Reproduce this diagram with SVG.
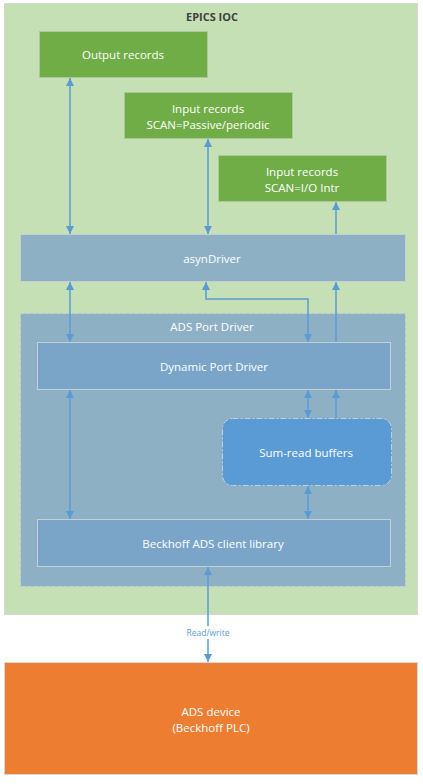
<svg xmlns="http://www.w3.org/2000/svg" width="423" height="784" viewBox="0 0 423 784">
<defs>
<style>
text{font-family:"Open Sans","Liberation Sans",sans-serif;font-size:11.5px;fill:#ffffff;text-anchor:middle;dominant-baseline:central}
.green{fill:#70AD47;stroke:#A9C99A;stroke-width:1}
.blue1{fill:#8EB0C4;stroke:#C3CFD8;stroke-width:1}
.blue2{fill:#7AA5C9;stroke:#C3CFD8;stroke-width:1}
.conn{stroke:#5B9BD5;stroke-width:1.5;fill:none}
</style>
<marker id="ah" viewBox="0 0 8 8" refX="8" refY="4" markerWidth="8" markerHeight="8" markerUnits="userSpaceOnUse" orient="auto-start-reverse">
<path d="M0,0 L8,4 L0,8 z" fill="#5B9BD5"/>
</marker>
</defs>
<rect width="423" height="784" fill="#ffffff"/>
<g id="epics-ioc">
<rect x="4.5" y="3.5" width="413" height="611" fill="#C5E0B4" stroke="#D4D8D0"/>
<text x="212" y="16" style="font-weight:bold;fill:#404040;font-size:11px">EPICS IOC</text>
</g>
<g id="output-records">
<rect class="green" x="39.5" y="31.5" width="168" height="46"/>
<text x="123" y="54">Output records</text>
</g>
<g id="input-passive">
<rect class="green" x="124.5" y="92.5" width="168" height="46"/>
<text x="208" y="108">Input records</text>
<text x="208" y="124">SCAN=Passive/periodic</text>
</g>
<g id="input-io">
<rect class="green" x="218.5" y="155.5" width="168" height="46"/>
<text x="302" y="171">Input records</text>
<text x="302" y="187">SCAN=I/O Intr</text>
</g>
<g id="asyn-driver">
<rect class="blue1" x="20.5" y="234.5" width="385" height="47"/>
<text x="212" y="258">asynDriver</text>
</g>
<g id="ads-port-driver">
<rect x="20.5" y="313.5" width="385" height="273" fill="#8EB0C4" stroke="#C3CFD8" stroke-dasharray="4,2"/>
<text x="212" y="326">ADS Port Driver</text>
</g>
<g id="dynamic-port-driver">
<rect class="blue2" x="37.5" y="342.5" width="353" height="47"/>
<text x="214" y="366">Dynamic Port Driver</text>
</g>
<g id="sum-read-buffers">
<rect x="222.5" y="418.5" width="169" height="67" rx="10" ry="10" fill="#5B9BD5" stroke="#C3CFD8" stroke-dasharray="6,2,2,2"/>
<text x="306" y="452">Sum-read buffers</text>
</g>
<g id="beckhoff-lib">
<rect class="blue2" x="37.5" y="519.5" width="353" height="47"/>
<text x="213" y="543">Beckhoff ADS client library</text>
</g>
<g id="ads-device">
<rect x="4.5" y="662.5" width="413" height="112" fill="#ED7D31" stroke="#D8D8D8"/>
<text x="211" y="711">ADS device</text>
<text x="211" y="727">(Beckhoff PLC)</text>
</g>
<g id="connectors">
<line class="conn" x1="70" y1="78" x2="70" y2="234" marker-start="url(#ah)" marker-end="url(#ah)"/>
<line class="conn" x1="208" y1="139" x2="208" y2="234" marker-start="url(#ah)" marker-end="url(#ah)"/>
<line class="conn" x1="336" y1="234" x2="336" y2="202" marker-end="url(#ah)"/>
<line class="conn" x1="70" y1="282" x2="70" y2="342" marker-start="url(#ah)" marker-end="url(#ah)"/>
<polyline class="conn" points="206,282 206,299 308,299 308,342" marker-start="url(#ah)" marker-end="url(#ah)"/>
<line class="conn" x1="336" y1="342" x2="336" y2="282" marker-end="url(#ah)"/>
<line class="conn" x1="70" y1="390" x2="70" y2="519" marker-start="url(#ah)" marker-end="url(#ah)"/>
<line class="conn" x1="308" y1="390" x2="308" y2="418" marker-start="url(#ah)" marker-end="url(#ah)"/>
<line class="conn" x1="336" y1="418" x2="336" y2="390" marker-end="url(#ah)"/>
<line class="conn" x1="308" y1="486" x2="308" y2="519" marker-start="url(#ah)" marker-end="url(#ah)"/>
<line class="conn" x1="208" y1="567" x2="208" y2="626" marker-start="url(#ah)"/>
<line class="conn" x1="208" y1="639" x2="208" y2="662" marker-end="url(#ah)"/>
<text x="208" y="632" style="font-size:8.5px;fill:#5B9BD5">Read/write</text>
</g>
</svg>
